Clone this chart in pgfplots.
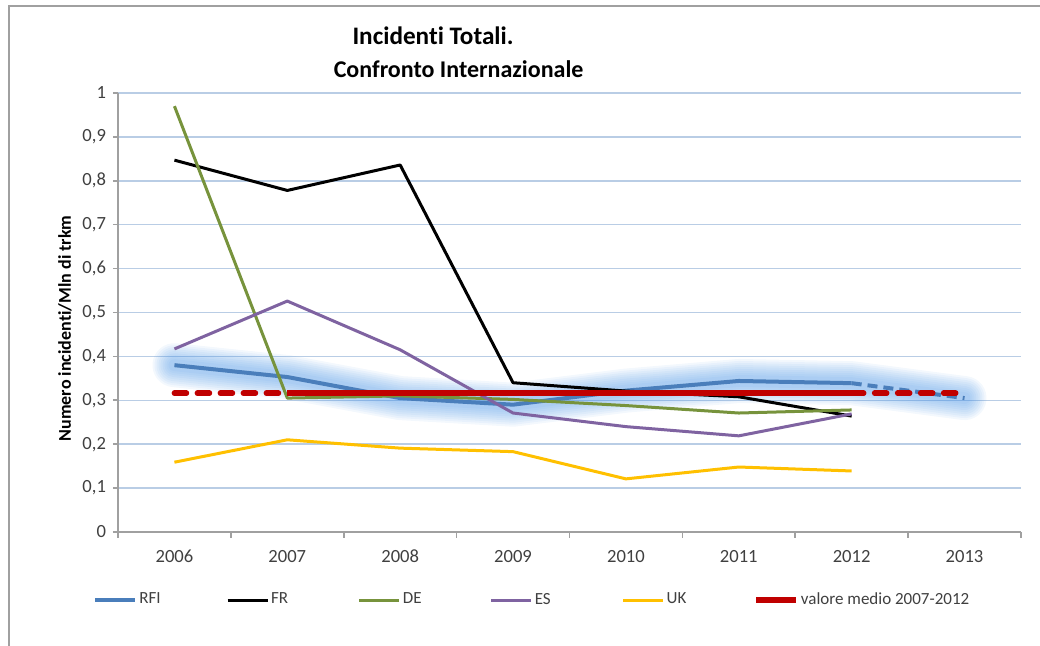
\documentclass[border=0pt]{standalone}
\usepackage{fontspec}
\setmainfont{Carlito}[Ligatures=NoCommon]
\usepackage{pgfplots}
\pgfplotsset{compat=1.18}

\definecolor{rfiblue}{HTML}{4A7EBB}
\definecolor{glowblue}{HTML}{4A94E4}
\definecolor{degreen}{HTML}{77933C}
\definecolor{espurple}{HTML}{7F63A1}
\definecolor{ukyellow}{HTML}{FFC000}
\definecolor{meanred}{HTML}{C00000}
\definecolor{gridblue}{HTML}{B9CDE5}
\definecolor{axisgray}{HTML}{A0A0A0}
\definecolor{labelgray}{HTML}{404040}

% categories 2006..2013 sit at 0.5 .. 7.5
\pgfplotstableread{
x    rfi    fr     de     es     uk
0.5  0.380  0.847  0.970  0.417  0.159
1.5  0.353  0.778  0.305  0.526  0.210
2.5  0.305  0.836  0.310  0.415  0.191
3.5  0.290  0.340  0.302  0.271  0.183
4.5  0.322  0.321  0.288  0.240  0.121
5.5  0.344  0.308  0.271  0.219  0.148
6.5  0.339  0.264  0.278  0.269  0.139
}\incidenti

\begin{document}
\begin{tikzpicture}
\useasboundingbox (0,0) rectangle (520pt,323pt);
% chart frame
\draw[axisgray, line width=1pt] (4.5pt,0pt) -- (4.5pt,320pt) -- (520pt,320pt);

\node[anchor=base, font=\bfseries\fontsize{12.6}{14}\selectfont] at (216.5pt,300.5pt) {Incidenti Totali.};
\node[anchor=base, font=\bfseries\fontsize{12}{14}\selectfont] at (229.3pt,284pt) {Confronto Internazionale};

\begin{axis}[
  scale only axis,
  width=451.5pt, height=219.5pt,
  at={(59pt,57pt)}, anchor=south west,
  xmin=0, xmax=8, ymin=0, ymax=1,
  axis x line*=bottom, axis y line*=left,
  axis line style={draw=axisgray, line width=0.8pt},
  tick align=outside,
  xtick={0.5,1.5,...,7.5},
  xticklabels={2006,2007,2008,2009,2010,2011,2012,2013},
  major x tick style={draw=none},
  minor xtick={0,1,...,8},
  minor x tick style={draw=axisgray, line width=0.8pt},
  minor tick length=3pt,
  ytick={0,0.1,...,1.01},
  major tick length=2.5pt,
  y tick style={draw=axisgray, line width=0.8pt},
  yticklabel style={/pgf/number format/use comma, /pgf/number format/fixed, /pgf/number format/precision=1},
  /pgf/number format/assume math mode=true,
  ticklabel style={font=\fontsize{9.3}{10}\selectfont, text=labelgray},
  xticklabel style={yshift=-3pt},
  ymajorgrids,
  grid style={draw=gridblue, line width=0.75pt},
  ylabel={Numero incidenti/Mln di trkm},
  ylabel style={at={(axis description cs:-0.0587,0.4636)}, anchor=center, font=\bfseries\fontsize{9}{10}\selectfont},
  legend columns=6,
  legend cell align=left,
  legend style={at={(axis description cs:-0.0277,-0.155)}, anchor=west, draw=none, inner sep=0pt,
    font=\fontsize{8.5}{10}\selectfont, text=labelgray,
    nodes={inner xsep=1pt}},
  legend image code/.code={\draw[#1] (0pt,0pt) -- (20pt,0pt);},
]
% soft halo behind the RFI series
\foreach \w in {22pt,20pt,18pt,16pt,14pt,12pt,10pt,8pt,6pt}{
  \edef\tmp{\noexpand\addplot[forget plot, glowblue, opacity=0.065, line width=\w, line join=round, line cap=round]
    coordinates {(0.5,0.380) (1.5,0.353) (2.5,0.305) (3.5,0.290) (4.5,0.322) (5.5,0.344) (6.5,0.339) (7.5,0.305)};}
  \tmp
}
\addplot[rfiblue, line width=2pt, line join=round] table[x=x, y=rfi] {\incidenti};
\addlegendentry{\makebox[42.4pt][l]{RFI}}
\addplot[forget plot, rfiblue, line width=2pt, dash pattern=on 5pt off 3pt] coordinates {(6.5,0.339) (7.5,0.305)};
\addplot[black, line width=1.5pt, line join=round] table[x=x, y=fr] {\incidenti};
\addlegendentry{\makebox[42.4pt][l]{FR}}
\addplot[degreen, line width=1.5pt, line join=round] table[x=x, y=de] {\incidenti};
\addlegendentry{\makebox[42.4pt][l]{DE}}
\addplot[espurple, line width=1.5pt, line join=round] table[x=x, y=es] {\incidenti};
\addlegendentry{\makebox[42.4pt][l]{ES}}
\addplot[ukyellow, line width=1.5pt, line join=round] table[x=x, y=uk] {\incidenti};
\addlegendentry{\makebox[42.4pt][l]{UK}}
% average 2007-2012, dashed outside that span
\addplot[meanred, line width=2.8pt] coordinates {(1.5,0.316) (6.5,0.316)};
\addlegendentry{valore medio 2007-2012}
\addplot[forget plot, meanred, line width=2.8pt, line cap=round, dash pattern=on 6pt off 5.5pt] coordinates {(0.5,0.316) (1.5,0.316)};
\addplot[forget plot, meanred, line width=2.8pt, line cap=round, dash pattern=on 6pt off 5.5pt] coordinates {(6.5,0.316) (7.5,0.316)};
\end{axis}
\end{tikzpicture}
\end{document}
